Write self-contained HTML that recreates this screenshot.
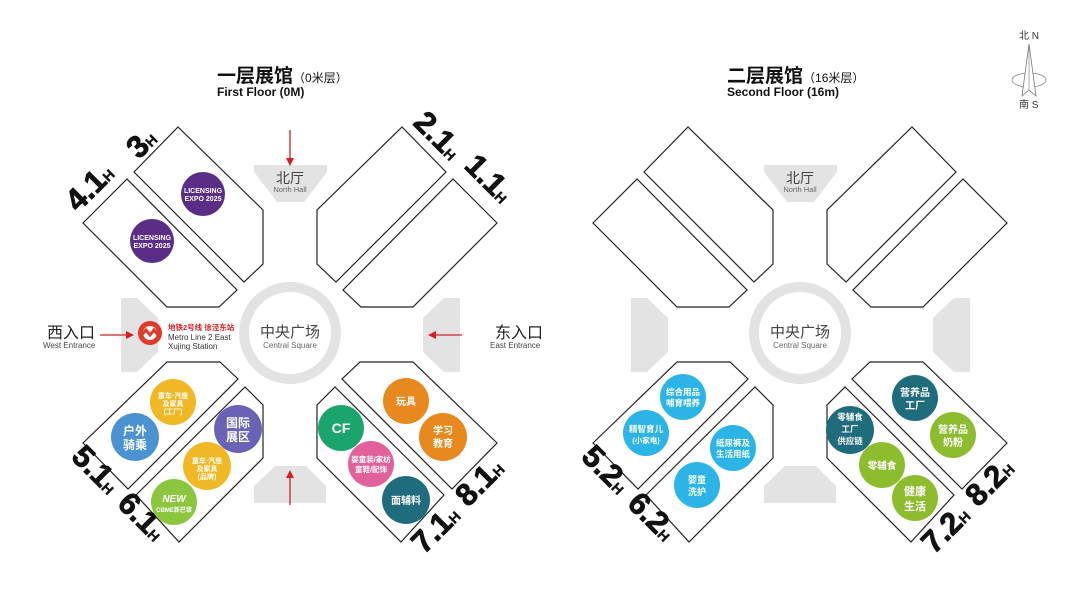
<!DOCTYPE html>
<html><head><meta charset="utf-8"><style>
html,body{margin:0;padding:0;background:#fff;}
svg{display:block;font-family:"Liberation Sans","Noto Sans CJK SC",sans-serif;}
.h{fill:#fff;stroke:#222;stroke-width:1.2;}
.g{fill:#e3e3e3;}
.ct{fill:#fff;font-weight:bold;text-anchor:middle;}
.num{font-weight:bold;font-size:31px;fill:#111;stroke:#111;stroke-width:0.8;}
.sub{font-weight:bold;font-size:14px;fill:#111;stroke-width:0.4;}
</style></head><body>
<svg width="1080" height="606" viewBox="0 0 1080 606" xmlns="http://www.w3.org/2000/svg">
<defs>
<g id="base">
  <polygon class="g" points="121,298 137,298 158,318 158,352 137,372 121,372"/>
  <polygon class="g" points="460,298 444,298 423,318 423,352 444,372 460,372"/>
  <polygon class="g" points="254,165 327,165 327,172 304,202 277,202 254,172"/>
  <polygon class="g" points="254,503 326,503 326,486 306,466 275,466 254,486"/>
  <circle cx="290" cy="333" r="46" fill="none" stroke="#e3e3e3" stroke-width="10"/>
  <text x="290" y="337" font-size="15" text-anchor="middle" fill="#444">中央广场</text>
  <text x="290" y="348" font-size="8" text-anchor="middle" fill="#666">Central Square</text>
  <text x="290" y="183" font-size="14" text-anchor="middle" fill="#444">北厅</text>
  <text x="290" y="192" font-size="7.5" text-anchor="middle" fill="#666">North Hall</text>
  <polygon class="h" points="134,172 178,127 263,210 263,264 244,282"/>
  <polygon class="h" points="83,223 127,179 237,290 219,307 167,307"/>
  <polygon class="h" points="446,172 402,127 317,210 317,264 336,282"/>
  <polygon class="h" points="497,223 453,179 343,290 361,307 413,307"/>
  <polygon class="h" points="83,443 167,362 220,362 238,379 128,489"/>
  <polygon class="h" points="136,495 245,387 263,405 263,458 179,542"/>
  <polygon class="h" points="497,443 413,362 360,362 342,379 452,489"/>
  <polygon class="h" points="444,495 335,387 317,405 317,458 401,542"/>
</g>
</defs>

<use href="#base"/>
<use href="#base" transform="translate(510,0)"/>

<text x="217" y="82" font-size="19" font-weight="bold" fill="#111">一层展馆<tspan font-size="12" font-weight="normal">（0米层）</tspan></text>
<text x="217" y="96" font-size="12" font-weight="bold" fill="#111">First Floor (0M)</text>
<text x="727" y="82" font-size="19" font-weight="bold" fill="#111">二层展馆<tspan font-size="12" font-weight="normal">（16米层）</tspan></text>
<text x="727" y="96" font-size="12" font-weight="bold" fill="#111">Second Floor (16m)</text>

<text x="1019" y="39" font-size="10" fill="#333">北 N</text>
<ellipse cx="1029" cy="80" rx="17" ry="7" fill="none" stroke="#888" stroke-width="0.8"/>
<polygon points="1029,44 1022,96 1029,90 1036,96" fill="#fff" stroke="#777" stroke-width="0.8"/>
<line x1="1029" y1="44" x2="1029" y2="90" stroke="#777" stroke-width="0.6"/>
<text x="1019" y="108" font-size="10" fill="#333">南 S</text>

<g stroke="#d42020" stroke-width="1.3" fill="#d42020">
  <line x1="290" y1="130" x2="290" y2="160"/><polygon points="286,158 294,158 290,166" stroke="none"/>
  <line x1="290" y1="505" x2="290" y2="476"/><polygon points="286,478 294,478 290,470" stroke="none"/>
  <line x1="100" y1="335" x2="128" y2="335"/><polygon points="126,331 126,339 134,335" stroke="none"/>
  <line x1="462" y1="335" x2="434" y2="335"/><polygon points="436,331 436,339 428,335" stroke="none"/>
</g>
<text x="47" y="338" font-size="16" fill="#222">西入口</text>
<text x="43" y="348" font-size="8" fill="#444">West Entrance</text>
<text x="495" y="338" font-size="16" fill="#222">东入口</text>
<text x="490" y="348" font-size="8" fill="#444">East Entrance</text>
<circle cx="150" cy="333" r="12" fill="#e03a2a"/>
<circle cx="150" cy="333" r="7" fill="#fff"/>
<path d="M141,336 L146,330 L150,335 L154,330 L159,336" stroke="#e03a2a" stroke-width="3" fill="none"/>
<text x="168" y="330" font-size="7.5" font-weight="bold" fill="#d42020">地铁2号线 徐泾东站</text>
<text x="168" y="340" font-size="8" fill="#333">Metro Line 2 East</text>
<text x="168" y="349" font-size="8" fill="#333">Xujing Station</text>

<text class="num" transform="translate(139,160) rotate(-45)">3<tspan class="sub">H</tspan></text>
<text class="num" transform="translate(78,213) rotate(-45)">4.1<tspan class="sub">H</tspan></text>
<text class="num" transform="translate(412,124) rotate(45)">2.1<tspan class="sub">H</tspan></text>
<text class="num" transform="translate(463,167) rotate(45)">1.1<tspan class="sub">H</tspan></text>
<text class="num" transform="translate(70,458) rotate(45)">5.1<tspan class="sub">H</tspan></text>
<text class="num" transform="translate(116,505) rotate(45)">6.1<tspan class="sub">H</tspan></text>
<text class="num" transform="translate(424,555) rotate(-45)">7.1<tspan class="sub">H</tspan></text>
<text class="num" transform="translate(468,508) rotate(-45)">8.1<tspan class="sub">H</tspan></text>
<text class="num" transform="translate(580,458) rotate(45)">5.2<tspan class="sub">H</tspan></text>
<text class="num" transform="translate(626,505) rotate(45)">6.2<tspan class="sub">H</tspan></text>
<text class="num" transform="translate(934,555) rotate(-45)">7.2<tspan class="sub">H</tspan></text>
<text class="num" transform="translate(978,508) rotate(-45)">8.2<tspan class="sub">H</tspan></text>

<circle cx="203" cy="194" r="22" fill="#5b2d86"/>
<text class="ct" x="203" y="193" font-size="7">LICENSING</text><text class="ct" x="203" y="201" font-size="7">EXPO 2025</text>
<circle cx="152" cy="241" r="22" fill="#5b2d86"/>
<text class="ct" x="152" y="240" font-size="7">LICENSING</text><text class="ct" x="152" y="248" font-size="7">EXPO 2025</text>

<circle cx="135" cy="437" r="24" fill="#4a92d2"/>
<text class="ct" x="135" y="435" font-size="12">户外</text><text class="ct" x="135" y="449" font-size="12">骑乘</text>
<circle cx="173" cy="402" r="23" fill="#f0b824"/>
<text class="ct" x="173" y="398" font-size="7">童车·汽座</text><text class="ct" x="173" y="406" font-size="7">及家具</text><text class="ct" x="173" y="414" font-size="7">(工厂)</text>
<circle cx="238" cy="429" r="24" fill="#6a62b4"/>
<text class="ct" x="238" y="427" font-size="12">国际</text><text class="ct" x="238" y="441" font-size="12">展区</text>
<circle cx="207" cy="466" r="24" fill="#f0b824"/>
<text class="ct" x="207" y="463" font-size="7">童车·汽座</text><text class="ct" x="207" y="471" font-size="7">及家具</text><text class="ct" x="207" y="479" font-size="7">(品牌)</text>
<circle cx="174" cy="502" r="23" fill="#8cc63f"/>
<text class="ct" x="174" y="502" font-size="10" font-style="italic">NEW</text><text class="ct" x="174" y="512" font-size="6">CBME新巴黎</text>

<circle cx="341" cy="428" r="23" fill="#1ba56d"/>
<text class="ct" x="341" y="433" font-size="14">CF</text>
<circle cx="371" cy="464" r="23" fill="#e2619c"/>
<text class="ct" x="371" y="462" font-size="7.5">婴童装/家纺</text><text class="ct" x="371" y="472" font-size="7.5">童鞋/配饰</text>
<circle cx="406" cy="500" r="24" fill="#1f6c7d"/>
<text class="ct" x="406" y="504" font-size="10">面辅料</text>
<circle cx="406" cy="401" r="23" fill="#e8891f"/>
<text class="ct" x="406" y="405" font-size="10">玩具</text>
<circle cx="443" cy="437" r="24" fill="#e8891f"/>
<text class="ct" x="443" y="434" font-size="10">学习</text><text class="ct" x="443" y="447" font-size="10">教育</text>

<circle cx="683" cy="397" r="23" fill="#2db4e7"/>
<text class="ct" x="683" y="395" font-size="8.5">综合用品</text><text class="ct" x="683" y="406" font-size="8.5">哺育喂养</text>
<circle cx="646" cy="433" r="23" fill="#2db4e7"/>
<text class="ct" x="646" y="432" font-size="8.5">精智育儿</text><text class="ct" x="646" y="443" font-size="7.5">(小家电)</text>
<circle cx="733" cy="448" r="23" fill="#2db4e7"/>
<text class="ct" x="733" y="446" font-size="8.5">纸尿裤及</text><text class="ct" x="733" y="457" font-size="8.5">生活用纸</text>
<circle cx="697" cy="485" r="23" fill="#2db4e7"/>
<text class="ct" x="697" y="483" font-size="9">婴童</text><text class="ct" x="697" y="495" font-size="9">洗护</text>
<circle cx="850" cy="430" r="24" fill="#1f6c7d"/>
<text class="ct" x="850" y="420" font-size="8.5">零辅食</text><text class="ct" x="850" y="432" font-size="8.5">工厂</text><text class="ct" x="850" y="444" font-size="8.5">供应链</text>
<circle cx="882" cy="465" r="23" fill="#8dbd2f"/>
<text class="ct" x="882" y="469" font-size="9.5">零辅食</text>
<circle cx="915" cy="498" r="23" fill="#8dbd2f"/>
<text class="ct" x="915" y="495" font-size="11">健康</text><text class="ct" x="915" y="510" font-size="11">生活</text>
<circle cx="915" cy="398" r="23" fill="#1f6c7d"/>
<text class="ct" x="915" y="396" font-size="10">营养品</text><text class="ct" x="915" y="409" font-size="10">工厂</text>
<circle cx="953" cy="435" r="23" fill="#8dbd2f"/>
<text class="ct" x="953" y="433" font-size="10">营养品</text><text class="ct" x="953" y="446" font-size="10">奶粉</text>
</svg>
</body></html>
